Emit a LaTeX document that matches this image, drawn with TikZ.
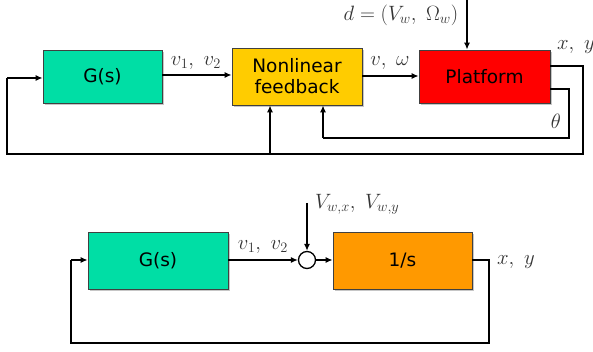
\documentclass[tikz,border=0pt]{standalone}
\usepackage{fontspec}
\setsansfont{DejaVu Sans}
\usetikzlibrary{shadows,arrows.meta}
\definecolor{cgreen}{RGB}{0,222,165}
\definecolor{cyellow}{RGB}{255,204,0}
\definecolor{cred}{RGB}{255,0,0}
\definecolor{corange}{RGB}{255,153,0}
\begin{document}
\begin{tikzpicture}[x=1pt,y=1pt,
  blk/.style={draw=black!75, line width=0.8pt, inner sep=0pt, align=center,
    font=\sffamily\fontsize{18.5}{21}\selectfont,
    drop shadow={shadow xshift=2pt, shadow yshift=-2pt, opacity=0.45}},
  wire/.style={line width=1.3pt, black},
  arr/.style={wire, -{Latex[length=7pt,width=6pt]}},
  lbl/.style={text=black!80, inner sep=0pt, font=\fontsize{20.5}{22}\selectfont}]
\useasboundingbox (0,0) rectangle (593,-352);
% top diagram
\node[blk, fill=cgreen, minimum width=119pt, minimum height=53pt] (G1) at (102.5,-76.5) {G(s)};
\node[blk, fill=cyellow, minimum width=130pt, minimum height=57pt] (NF) at (297,-76.5) {Nonlinear\\feedback};
\node[blk, fill=cred, minimum width=131pt, minimum height=53pt] (PF) at (484.5,-76.5) {Platform};
\draw[arr] (G1.east |- 0,-75) -- (NF.west |- 0,-75);
\draw[arr] (NF.east |- 0,-76) -- (PF.west |- 0,-76);
\coordinate (dtop) at (467,0);
\draw[arr] (dtop) -- (dtop |- PF.north);
\coordinate (o1) at (583,-66);
\coordinate (o2) at (583,-154);
\coordinate (o3) at (7,-154);
\coordinate (o4) at (7,-78);
\coordinate (br) at (270,-154);
\draw[wire] (PF.east |- o1) -- (o1) -- (o2) -- (o3) -- (o4);
\draw[arr] (o4) -- (G1.west |- o4);
\draw[arr] (br) -- (br |- NF.south);
\coordinate (i1) at (569,-89);
\coordinate (i2) at (569,-138);
\coordinate (i3) at (323,-138);
\draw[wire] (PF.east |- i1) -- (i1) -- (i2) -- (i3);
\draw[arr] (i3) -- (i3 |- NF.south);
\node[lbl] (lv12a) at (196,-63) {$v_1,\ v_2$};
\node[lbl] (lvw) at (390,-63) {$v,\ \omega$};
\node[lbl] (ld) at (401,-15) {$d=(V_w,\ \Omega_w)$};
\node[lbl, anchor=west] (lxya) at (557,-47) {$x,\ y$};
\node[lbl] (lth) at (556,-121) {$\theta$};
% bottom diagram
\node[blk, fill=cgreen, minimum width=140pt, minimum height=57pt] (G2) at (158,-260.5) {G(s)};
\node[draw=black, line width=1.3pt, circle, minimum size=17pt, inner sep=0pt] (S) at (307,-260) {};
\node[blk, fill=corange, minimum width=139pt, minimum height=57pt] (IS) at (402.5,-260.5) {1/s};
\draw[arr] (G2.east |- S) -- (S.west);
\draw[arr] (S.east) -- (IS.west |- S);
\coordinate (vin) at (307,-203);
\draw[arr] (vin) -- (S.north);
\coordinate (b1) at (489,-260);
\coordinate (b2) at (489,-343);
\coordinate (b3) at (71,-343);
\coordinate (b4) at (71,-260);
\draw[wire] (IS.east |- b1) -- (b1) -- (b2) -- (b3) -- (b4);
\draw[arr] (b4) -- (G2.west |- b4);
\node[lbl] (lv12b) at (263,-247) {$v_1,\ v_2$};
\node[lbl, anchor=west] (lvwxy) at (315,-204) {$V_{w,x},\ V_{w,y}$};
\node[lbl, anchor=west] (lxyb) at (497,-262) {$x,\ y$};
\end{tikzpicture}
\end{document}
